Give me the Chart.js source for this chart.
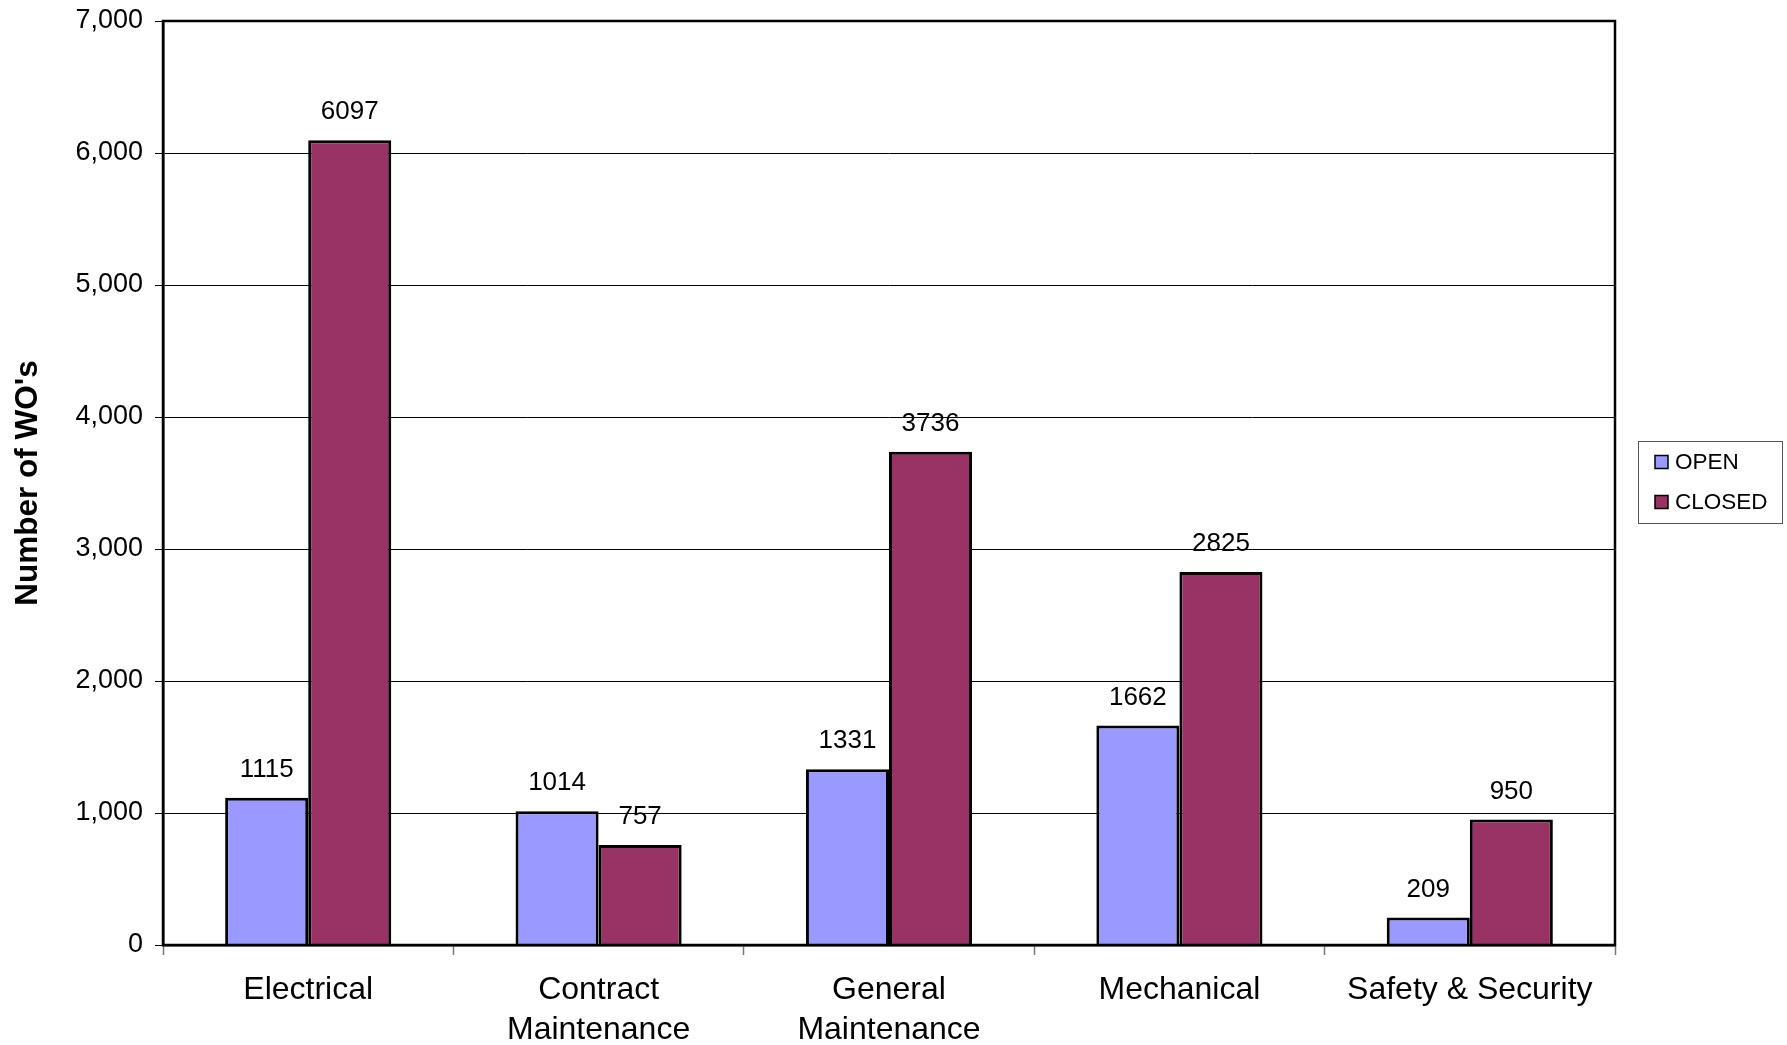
<!DOCTYPE html>
<html>
<head>
<meta charset="utf-8">
<script src="https://cdn.jsdelivr.net/npm/chart.js@4.4.0/dist/chart.umd.min.js"></script>
<style>
  html, body { margin: 0; padding: 0; background: #fff; }
</style>
</head>
<body>
<canvas id="graficoWO" width="1787" height="1045"></canvas>
<script>
// Categorias (multi-linha onde o texto é longo)
const categorias = [['Electrical'], ['Contract', 'Maintenance'], ['General', 'Maintenance'], ['Mechanical'], ['Safety & Security']];
// Ordens de trabalho por estado
const abertas = [1115, 1014, 1331, 1662, 209];
const fechadas = [6097, 757, 3736, 2825, 950];
const nomesSeries = ['OPEN', 'CLOSED'];
const coresSeries = ['#9999FF', '#993366'];

const fonte = "'Liberation Sans', Arial, sans-serif";

// Moldura preta à volta da área do gráfico
const moldura = {
  id: 'moldura',
  afterDraw(chart) {
    const { ctx, chartArea: a } = chart;
    ctx.save();
    ctx.strokeStyle = '#000';
    ctx.lineWidth = 2.5;
    ctx.strokeRect(a.left, a.top, a.right - a.left, a.bottom - a.top);
    ctx.restore();
  }
};

// Valor de cada barra escrito por cima
const rotulos = {
  id: 'rotulos',
  afterDatasetsDraw(chart) {
    const ctx = chart.ctx;
    ctx.save();
    ctx.font = '26px ' + fonte;
    ctx.fillStyle = '#000';
    ctx.textAlign = 'center';
    ctx.textBaseline = 'middle';
    chart.data.datasets.forEach((ds, i) => {
      chart.getDatasetMeta(i).data.forEach((barra, j) => {
        ctx.fillText(String(ds.data[j]), barra.x, barra.y - 28);
      });
    });
    ctx.restore();
  }
};

// Legenda com caixa, à direita do gráfico
const legenda = {
  id: 'legenda',
  afterDraw(chart) {
    const { ctx, chartArea: a } = chart;
    const x = a.right + 23, w = 144, h = 82;
    const cy = (a.top + a.bottom) / 2 - 1;
    const y = cy - h / 2;
    ctx.save();
    ctx.fillStyle = '#fff';
    ctx.fillRect(x, y, w, h);
    ctx.strokeStyle = '#555';
    ctx.lineWidth = 1;
    ctx.strokeRect(x + 0.5, y + 0.5, w, h);
    ctx.font = '22.5px ' + fonte;
    ctx.textBaseline = 'middle';
    chart.data.datasets.forEach((ds, i) => {
      const ly = cy + (i === 0 ? -20 : 20);
      ctx.fillStyle = ds.backgroundColor;
      ctx.fillRect(x + 17, ly - 6.5, 13, 13);
      ctx.strokeStyle = '#000';
      ctx.lineWidth = 1.5;
      ctx.strokeRect(x + 17, ly - 6.5, 13, 13);
      ctx.fillStyle = '#000';
      ctx.fillText(ds.label, x + 37, ly + 1);
    });
    ctx.restore();
  }
};

const ctx = document.getElementById('graficoWO').getContext('2d');

const grafico = new Chart(ctx, {
  type: 'bar',
  data: {
    labels: categorias,
    datasets: [
      { label: nomesSeries[0], data: abertas, backgroundColor: coresSeries[0] },
      { label: nomesSeries[1], data: fechadas, backgroundColor: coresSeries[1] }
    ]
  },
  options: {
    responsive: false,
    animation: false,
    layout: { padding: { top: 21, right: 172, bottom: 0, left: 0 } },
    datasets: {
      bar: {
        categoryPercentage: 0.572,
        barPercentage: 1,
        borderColor: '#000',
        borderWidth: 3
      }
    },
    plugins: {
      legend: { display: false },
      tooltip: { enabled: false }
    },
    scales: {
      x: {
        grid: {
          offset: true,
          drawOnChartArea: false,
          tickLength: 10,
          tickColor: '#777',
          tickWidth: 1.5
        },
        border: { display: true, color: '#000', width: 2.5 },
        ticks: {
          color: '#000',
          padding: 15,
          maxRotation: 0,
          autoSkip: false,
          font: { family: fonte, size: 32, lineHeight: 1.25 }
        },
        afterFit(scale) {
          scale.height = 100;
          scale.paddingLeft = 0;
          scale.paddingRight = 0;
        }
      },
      y: {
        min: 0,
        max: 7000,
        ticks: {
          stepSize: 1000,
          color: '#000',
          padding: 12,
          font: { family: fonte, size: 27 },
          callback: v => v.toLocaleString('en-US')
        },
        grid: {
          color: '#000',
          lineWidth: 1,
          tickLength: 8,
          tickColor: '#000'
        },
        border: { display: true, color: '#000', width: 2.5 },
        title: {
          display: true,
          text: "Number of WO's",
          color: '#000',
          padding: { top: 9, bottom: 0 },
          font: { family: fonte, size: 31.5, weight: 'bold' }
        },
        afterFit(scale) {
          scale.width = 163;
          scale.paddingTop = 0;
          scale.paddingBottom = 0;
        }
      }
    }
  },
  plugins: [moldura, rotulos, legenda]
});
</script>
</body>
</html>
